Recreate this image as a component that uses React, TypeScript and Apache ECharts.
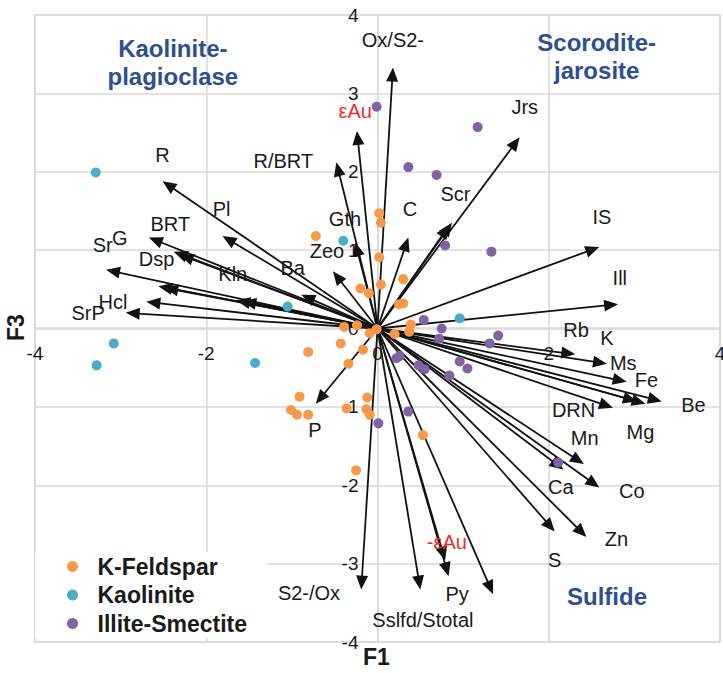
import React, { useEffect, useRef } from "react";
import * as echarts from "echarts";

const FONT = "'Liberation Sans', Arial, Helvetica, sans-serif";

// Sample scores (F1, F3)
const kFeldspar: [number, number][] = [
  [0.02, 1.47], [0.04, 1.35], [-0.72, 1.18], [0.02, 0.91], [0.3, 0.63], [0.04, 0.56],
  [-0.2, 0.51], [-0.1, 0.45], [0.25, 0.31], [0.3, 0.32], [0.39, 0.05], [0.37, -0.04],
  [0.2, -0.07], [-0.01, -0.01], [-0.09, -0.06], [-0.24, 0.04], [-0.39, 0.02], [-0.43, -0.19],
  [-0.81, -0.3], [-0.17, -0.27], [-0.34, -0.45], [-0.91, -0.87], [-0.12, -0.88], [-1.01, -1.04],
  [-0.94, -1.1], [-0.81, -1.1], [-0.36, -1.02], [-0.13, -1.03], [-0.09, -1.1], [0.53, -1.36],
  [-0.25, -1.81],
];
const kaolinite: [number, number][] = [
  [-3.29, 1.99], [-0.4, 1.12], [-1.05, 0.28], [0.96, 0.13], [-3.08, -0.19], [-3.28, -0.47], [-1.43, -0.44],
];
const illiteSmectite: [number, number][] = [
  [-0.01, 2.83], [1.17, 2.57], [0.36, 2.06], [0.69, 1.96], [0.79, 1.06], [1.33, 0.98],
  [0.54, 0.11], [0.75, 0.0], [0.72, -0.13], [1.41, -0.09], [1.31, -0.19], [0.22, -0.38],
  [0.26, -0.35], [0.48, -0.47], [0.55, -0.52], [0.84, -0.6], [0.96, -0.42], [1.05, -0.51],
  [0.36, -1.06], [0.01, -1.21], [2.11, -1.71],
];

// Variable loadings (arrow tips)
const loadings: [number, number][] = [
  [-2.51, 1.88], [-1.81, 1.18], [-2.67, 1.16], [-2.38, 0.98], [-2.31, 0.94], [-3.17, 0.75],
  [-2.56, 0.54], [-2.49, 0.52], [-1.65, 0.36], [-1.58, 0.35], [-2.7, 0.34], [-2.94, 0.2],
  [-0.89, 0.43], [-0.52, 0.73], [-0.48, 2.12], [-0.24, 2.52], [-0.26, 1.1], [0.18, 3.33],
  [0.36, 1.16], [0.87, 1.35], [0.84, 1.32], [1.66, 2.44], [2.59, 1.04], [2.81, 0.31],
  [2.31, -0.33], [2.68, -0.45], [2.91, -0.68], [3.32, -0.93], [3.13, -0.96], [3.03, -0.93],
  [2.75, -1.01], [2.41, -1.73], [2.17, -1.8], [2.59, -2.03], [2.07, -2.59], [2.44, -2.66],
  [-0.72, -0.96], [-0.19, -3.33], [0.5, -3.33], [0.79, -2.96], [0.83, -3.16], [1.35, -3.39],
];

// Variable names and where they are written
const varNames = [
  "R", "R/BRT", "Pl", "BRT", "Sr", "G", "Dsp", "Kln", "Ba", "Hcl", "SrP", "Gth", "Zeo",
  "Ox/S2-", "C", "Scr", "Jrs", "IS", "Ill", "Rb", "K", "Ms", "Fe", "Be", "Mg", "DRN",
  "Mn", "Ca", "Co", "S", "Zn", "P", "S2-/Ox", "Sslfd/Stotal", "Py",
];
const varLabelPos: [number, number][] = [
  [-2.51, 2.22], [-1.1, 2.14], [-1.82, 1.53], [-2.42, 1.33], [-3.21, 1.07], [-3.01, 1.16],
  [-2.58, 0.89], [-1.69, 0.7], [-0.99, 0.77], [-3.09, 0.34], [-3.38, 0.2], [-0.38, 1.4],
  [-0.59, 0.99], [0.18, 3.68], [0.38, 1.53], [0.91, 1.72], [1.72, 2.83], [2.62, 1.42],
  [2.83, 0.65], [2.32, -0.02], [2.68, -0.12], [2.87, -0.44], [3.14, -0.66], [3.69, -0.97],
  [3.07, -1.32], [2.29, -1.04], [2.42, -1.4], [2.14, -2.02], [2.97, -2.07], [2.07, -2.95],
  [2.79, -2.69], [-0.73, -1.3], [-0.8, -3.37], [0.53, -3.72], [0.93, -3.39],
];
const goldNames = ["εAu", "-εAu"];
const goldLabelPos: [number, number][] = [[-0.26, 2.77], [0.81, -2.72]];

const regionNames = ["Kaolinite-\nplagioclase", "Scorodite-\njarosite", "Sulfide"];
const regionPos: [number, number][] = [[-2.39, 3.4], [2.56, 3.47], [2.68, -3.42]];

const groupNames = ["K-Feldspar", "Kaolinite", "Illite-Smectite"];
const groupColors = ["#F7984A", "#4BACC6", "#8064A2"];

const xTicksInterval = 2;
const yTicksInterval = 1;

export default function App() {
  const ref = useRef<HTMLDivElement>(null);
  useEffect(() => {
    if (!ref.current) return;
    const chart = echarts.init(ref.current, undefined, { renderer: "svg" });

    const arrowSeries = {
      type: "custom",
      name: "loadings",
      silent: true,
      z: 2,
      data: loadings,
      encode: { x: 0, y: 1 },
      renderItem: (_p: any, api: any) => {
        const p0 = api.coord([0, 0]);
        const p1 = api.coord([api.value(0), api.value(1)]);
        const dx = p1[0] - p0[0];
        const dy = p1[1] - p0[1];
        const len = Math.hypot(dx, dy) || 1;
        const ux = dx / len;
        const uy = dy / len;
        const L = 14;
        const W = 6;
        const bx = p1[0] - ux * L;
        const by = p1[1] - uy * L;
        const nx = -uy;
        const ny = ux;
        return {
          type: "group",
          children: [
            {
              type: "line",
              shape: { x1: p0[0], y1: p0[1], x2: bx + ux * 2, y2: by + uy * 2 },
              style: { stroke: "#111", lineWidth: 1.8 },
            },
            {
              type: "polygon",
              shape: {
                points: [
                  [p1[0], p1[1]],
                  [bx + nx * W, by + ny * W],
                  [bx - nx * W, by - ny * W],
                ],
              },
              style: { fill: "#111" },
            },
          ],
        };
      },
    };

    const pointSeries = [kFeldspar, kaolinite, illiteSmectite].map((d, i) => ({
      type: "scatter",
      name: groupNames[i],
      data: d,
      symbol: "circle",
      symbolSize: 10,
      z: 3,
      itemStyle: { color: groupColors[i], opacity: 1 },
      silent: true,
    }));

    const textSeries = (
      names: string[],
      pos: [number, number][],
      style: any,
      z: number
    ) => ({
      type: "scatter",
      name: "__labels" + z,
      silent: true,
      z,
      symbol: "circle",
      symbolSize: 1,
      itemStyle: { color: "rgba(0,0,0,0)", opacity: 1 },
      data: names.map((n, i) => ({ name: n, value: pos[i] })),
      label: {
        show: true,
        position: "inside",
        formatter: "{b}",
        fontFamily: FONT,
        textBorderWidth: 0,
        opacity: 1,
        ...style,
      },
    });

    chart.setOption({
      animation: false,
      backgroundColor: "#fff",
      grid: {
        left: 35,
        right: 3,
        top: 15,
        bottom: 31,
        show: true,
        borderColor: "#d9d9d9",
        borderWidth: 1.5,
        containLabel: false,
        outerBoundsMode: "none",
      },
      xAxis: {
        type: "value",
        min: -4,
        max: 4,
        interval: xTicksInterval,
        position: "bottom",
        offset: -314.5,
        axisLine: { show: true, onZero: false, lineStyle: { color: "#d9d9d9", width: 1.5 } },
        axisTick: { show: false },
        axisLabel: { fontSize: 19, color: "#1a1a1a", margin: 16, fontFamily: FONT, showMinLabel: true, showMaxLabel: true },
        splitLine: { show: true, lineStyle: { color: "#d9d9d9", width: 1.5 } },
      },
      yAxis: {
        type: "value",
        min: -4,
        max: 4,
        interval: yTicksInterval,
        position: "left",
        offset: -342.5,
        axisLine: { show: true, onZero: false, lineStyle: { color: "#d9d9d9", width: 1.5 } },
        axisTick: { show: false },
        axisLabel: { fontSize: 19, color: "#1a1a1a", margin: 19, fontFamily: FONT, showMinLabel: true, showMaxLabel: true },
        splitLine: { show: true, lineStyle: { color: "#d9d9d9", width: 1.5 } },
      },
      legend: {
        data: groupNames,
        orient: "vertical",
        left: 35,
        top: 552,
        padding: [3, 20, 3, 32],
        backgroundColor: "#fff",
        itemWidth: 40,
        itemHeight: 11,
        itemGap: 5.5,
        icon: "circle",
        selectedMode: false,
        textStyle: { fontSize: 23, fontWeight: "bold", color: "#1a1a1a", fontFamily: FONT },
      },
      graphic: [
        {
          type: "text",
          left: 363,
          top: 645,
          style: { text: "F1", fontSize: 23, fontWeight: "bold", fill: "#1a1a1a", fontFamily: FONT },
        },
        {
          type: "text",
          x: 4,
          y: 341,
          rotation: Math.PI / 2,
          style: { text: "F3", fontSize: 23, fontWeight: "bold", fill: "#1a1a1a", fontFamily: FONT },
        },
      ],
      series: [
        arrowSeries,
        ...pointSeries,
        textSeries(varNames, varLabelPos, { fontSize: 20, color: "#1a1a1a" }, 4),
        textSeries(goldNames, goldLabelPos, { fontSize: 20, color: "#E8302A" }, 5),
        textSeries(
          regionNames,
          regionPos,
          { fontSize: 24, fontWeight: "bold", color: "#2D4F8E", lineHeight: 28, align: "center" },
          6
        ),
      ],
    });
    return () => chart.dispose();
  }, []);
  return (
    <div
      ref={ref}
      style={{ position: "absolute", left: 0, top: 0, width: 723, height: 673 }}
    />
  );
}
